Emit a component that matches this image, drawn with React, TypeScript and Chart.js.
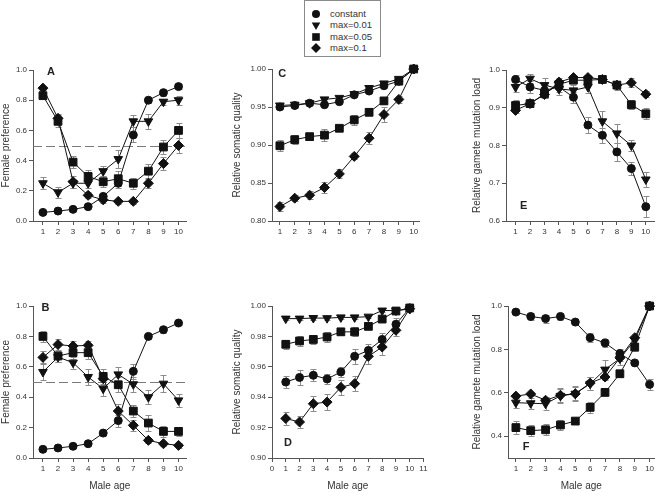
import React, { useEffect, useRef } from 'react';
import { Chart, registerables } from 'chart.js';

Chart.register(...registerables);
Chart.defaults.font.family = "'Liberation Sans', Arial, sans-serif";

// ---------- data ----------
const AGES = [1, 2, 3, 4, 5, 6, 7, 8, 9, 10];
const SERIES_LABELS = ['constant', 'max=0.01', 'max=0.05', 'max=0.1'];

// Panel A – female preference
const A_CONSTANT = [0.057, 0.066, 0.077, 0.095, 0.163, 0.25, 0.57, 0.8, 0.85, 0.89];
const A_MAX001 = [0.25, 0.19, 0.25, 0.25, 0.33, 0.41, 0.66, 0.66, 0.79, 0.8];
const A_MAX005 = [0.83, 0.66, 0.39, 0.295, 0.26, 0.28, 0.25, 0.33, 0.49, 0.6];
const A_MAX01 = [0.88, 0.68, 0.26, 0.17, 0.14, 0.13, 0.13, 0.25, 0.38, 0.5];
const A_CONSTANT_ERR = [0.01, 0.01, 0.01, 0.01, 0.02, 0.03, 0.05, 0.02, 0.02, 0.015];
const A_MAX001_ERR = [0.04, 0.035, 0.03, 0.03, 0.035, 0.06, 0.04, 0.05, 0.02, 0.03];
const A_MAX005_ERR = [0.02, 0.04, 0.04, 0.04, 0.035, 0.05, 0.035, 0.045, 0.045, 0.05];
const A_MAX01_ERR = [0.01, 0.03, 0.04, 0.02, 0.02, 0.015, 0.015, 0.03, 0.045, 0.05];

// Panel B – female preference
const B_CONSTANT = [0.057, 0.066, 0.077, 0.094, 0.164, 0.246, 0.57, 0.8, 0.844, 0.888];
const B_MAX001 = [0.566, 0.664, 0.627, 0.533, 0.456, 0.55, 0.485, 0.4, 0.489, 0.379];
const B_MAX005 = [0.8, 0.671, 0.693, 0.693, 0.537, 0.482, 0.309, 0.23, 0.175, 0.175];
const B_MAX01 = [0.662, 0.746, 0.737, 0.741, 0.522, 0.309, 0.215, 0.116, 0.094, 0.083];
const B_CONSTANT_ERR = [0.01, 0.01, 0.01, 0.01, 0.02, 0.04, 0.05, 0.02, 0.02, 0.01];
const B_MAX001_ERR = [0.05, 0.03, 0.04, 0.05, 0.05, 0.05, 0.05, 0.045, 0.055, 0.045];
const B_MAX005_ERR = [0.035, 0.04, 0.04, 0.04, 0.05, 0.05, 0.04, 0.05, 0.035, 0.03];
const B_MAX01_ERR = [0.04, 0.04, 0.035, 0.03, 0.04, 0.045, 0.035, 0.015, 0.015, 0.015];

// Panel C – relative somatic quality
const C_CONSTANT = [0.95, 0.952, 0.955, 0.953, 0.957, 0.966, 0.971, 0.978, 0.984, 1.0];
const C_MAX001 = [0.952, 0.953, 0.955, 0.96, 0.962, 0.967, 0.975, 0.981, 0.987, 1.0];
const C_MAX005 = [0.899, 0.907, 0.911, 0.913, 0.922, 0.933, 0.943, 0.958, 0.984, 1.0];
const C_MAX01 = [0.819, 0.83, 0.834, 0.844, 0.862, 0.885, 0.909, 0.94, 0.96, 1.0];
const C_CONSTANT_ERR = [0.003, 0.003, 0.003, 0.003, 0.003, 0.003, 0.003, 0.003, 0.003, 0.001];
const C_MAX001_ERR = [0.003, 0.003, 0.003, 0.003, 0.003, 0.003, 0.003, 0.003, 0.003, 0.001];
const C_MAX005_ERR = [0.007, 0.006, 0.004, 0.008, 0.004, 0.007, 0.004, 0.004, 0.004, 0.002];
const C_MAX01_ERR = [0.006, 0.004, 0.005, 0.007, 0.006, 0.004, 0.008, 0.01, 0.005, 0.002];

// Panel D – relative somatic quality
const D_CONSTANT = [0.95, 0.953, 0.9544, 0.952, 0.9566, 0.9669, 0.9708, 0.978, 0.988, 0.9987];
const D_MAX001 = [0.9917, 0.9917, 0.9921, 0.992, 0.9925, 0.9925, 0.993, 0.997, 0.997, 0.998];
const D_MAX005 = [0.9748, 0.977, 0.978, 0.9796, 0.983, 0.983, 0.9866, 0.9914, 0.9967, 0.9987];
const D_MAX01 = [0.926, 0.9237, 0.9357, 0.9368, 0.9465, 0.9489, 0.9669, 0.973, 0.984, 0.9982];
const D_CONSTANT_ERR = [0.004, 0.005, 0.004, 0.003, 0.003, 0.005, 0.004, 0.004, 0.004, 0.001];
const D_MAX001_ERR = [0.001, 0.001, 0.001, 0.001, 0.001, 0.001, 0.001, 0.001, 0.001, 0.001];
const D_MAX005_ERR = [0.003, 0.003, 0.003, 0.003, 0.002, 0.003, 0.002, 0.002, 0.002, 0.001];
const D_MAX01_ERR = [0.004, 0.004, 0.005, 0.005, 0.005, 0.005, 0.005, 0.005, 0.004, 0.001];

// Panel E – relative gamete mutation load
const E_CONSTANT = [0.975, 0.955, 0.946, 0.955, 0.928, 0.854, 0.827, 0.783, 0.739, 0.638];
const E_MAX001 = [0.955, 0.977, 0.96, 0.95, 0.946, 0.955, 0.864, 0.832, 0.8, 0.71];
const E_MAX005 = [0.906, 0.911, 0.937, 0.962, 0.973, 0.973, 0.975, 0.96, 0.908, 0.884];
const E_MAX01 = [0.893, 0.911, 0.935, 0.968, 0.98, 0.98, 0.975, 0.96, 0.966, 0.936];
const E_CONSTANT_ERR = [0.012, 0.015, 0.015, 0.012, 0.015, 0.022, 0.02, 0.024, 0.016, 0.028];
const E_MAX001_ERR = [0.013, 0.012, 0.02, 0.015, 0.015, 0.015, 0.027, 0.025, 0.015, 0.02];
const E_MAX005_ERR = [0.015, 0.01, 0.01, 0.01, 0.008, 0.008, 0.006, 0.012, 0.012, 0.015];
const E_MAX01_ERR = [0.008, 0.008, 0.01, 0.01, 0.006, 0.006, 0.006, 0.01, 0.012, 0.008];

// Panel F – relative gamete mutation load
const F_CONSTANT = [0.972, 0.952, 0.942, 0.952, 0.926, 0.854, 0.83, 0.781, 0.738, 0.639];
const F_MAX001 = [0.555, 0.552, 0.55, 0.586, 0.596, 0.642, 0.707, 0.758, 0.842, 1.0];
const F_MAX005 = [0.44, 0.426, 0.43, 0.452, 0.47, 0.533, 0.602, 0.688, 0.811, 1.0];
const F_MAX01 = [0.585, 0.595, 0.566, 0.589, 0.596, 0.645, 0.673, 0.761, 0.854, 1.0];
const F_CONSTANT_ERR = [0.01, 0.015, 0.018, 0.015, 0.01, 0.02, 0.018, 0.02, 0.01, 0.025];
const F_MAX001_ERR = [0.025, 0.025, 0.03, 0.035, 0.035, 0.03, 0.045, 0.03, 0.03, 0.005];
const F_MAX005_ERR = [0.03, 0.025, 0.025, 0.025, 0.015, 0.025, 0.01, 0.015, 0.02, 0.005];
const F_MAX01_ERR = [0.01, 0.01, 0.015, 0.03, 0.03, 0.03, 0.015, 0.015, 0.01, 0.005];

// tick labels
const X_TICKS = [1, 2, 3, 4, 5, 6, 7, 8, 9, 10];
const X_TICKS_D = [0, 1, 2, 3, 4, 5, 6, 7, 8, 9, 10, 11];
const Y_TICKS_PREF = [0, 0.2, 0.4, 0.6, 0.8, 1.0];
const Y_TICKS_C = [0.8, 0.85, 0.9, 0.95, 1.0];
const Y_TICKS_D = [0.9, 0.92, 0.94, 0.96, 0.98, 1.0];
const Y_TICKS_E = [0.6, 0.7, 0.8, 0.9, 1.0];
const Y_TICKS_F = [0.4, 0.6, 0.8, 1.0];

// ---------- styling ----------
const INK = '#111111';
const AXIS = '#555555';
const TEXT = '#333333';
const ERR = '#8c8c8c';

const MARKERS = [
  { pointStyle: 'circle', radius: 4, rotation: 0 },
  { pointStyle: 'triangle', radius: 5, rotation: 180 },
  { pointStyle: 'rect', radius: 5.5, rotation: 0 },
  { pointStyle: 'rectRot', radius: 5, rotation: 0 },
];

const errorBarPlugin = {
  id: 'errorBars',
  beforeDatasetsDraw(chart: any) {
    const { ctx } = chart;
    const xs = chart.scales.x;
    const ys = chart.scales.y;
    ctx.save();
    ctx.strokeStyle = ERR;
    ctx.lineWidth = 1;
    chart.data.datasets.forEach((ds: any) => {
      const errs = ds.errors as number[];
      if (!errs) return;
      ds.data.forEach((pt: any, i: number) => {
        const e = errs[i];
        if (!e) return;
        const px = Math.round(xs.getPixelForValue(pt.x)) + 0.5;
        const top = Math.round(ys.getPixelForValue(pt.y + e)) + 0.5;
        const bot = Math.round(ys.getPixelForValue(pt.y - e)) + 0.5;
        ctx.beginPath();
        ctx.moveTo(px, top);
        ctx.lineTo(px, bot);
        ctx.moveTo(px - 3, top);
        ctx.lineTo(px + 3, top);
        ctx.moveTo(px - 3, bot);
        ctx.lineTo(px + 3, bot);
        ctx.stroke();
      });
    });
    ctx.restore();
  },
};

const decoPlugin = {
  id: 'deco',
  beforeDatasetsDraw(chart: any, _args: any, opts: any) {
    if (opts.refY == null) return;
    const { ctx, chartArea } = chart;
    const y = Math.round(chart.scales.y.getPixelForValue(opts.refY)) + 0.5;
    ctx.save();
    ctx.strokeStyle = '#7a7a7a';
    ctx.lineWidth = 1;
    ctx.setLineDash([9, 4]);
    ctx.beginPath();
    ctx.moveTo(chartArea.left, y);
    ctx.lineTo(chartArea.right, y);
    ctx.stroke();
    ctx.restore();
  },
  afterDraw(chart: any, _args: any, opts: any) {
    if (!opts.letter) return;
    const { ctx } = chart;
    const x = chart.scales.x.getPixelForValue(opts.letterX);
    const y = chart.scales.y.getPixelForValue(opts.letterY);
    ctx.save();
    ctx.fillStyle = '#222';
    ctx.font = "bold 11px 'Liberation Sans', Arial, sans-serif";
    ctx.textAlign = 'center';
    ctx.textBaseline = 'middle';
    ctx.fillText(opts.letter, x, y);
    ctx.restore();
  },
};

type PanelCfg = {
  left: number; top: number; w: number; h: number;
  pad: { top: number; right: number; bottom: number; left: number };
  yW: number; xH: number;
  xMin: number; xMax: number; xTicks: number[];
  yMin: number; yMax: number; yTicks: number[]; dec: number;
  yTitle: string; xTitle?: string;
  series: number[][]; errors: number[][];
  refY?: number | null;
  letter: string; letterX: number; letterY: number;
};

function buildConfig(p: PanelCfg): any {
  const datasets = p.series.map((vals, si) => ({
    label: SERIES_LABELS[si],
    data: AGES.map((a, i) => ({ x: a, y: vals[i] })),
    errors: p.errors[si],
    borderColor: INK,
    borderWidth: 1,
    backgroundColor: INK,
    pointBackgroundColor: INK,
    pointBorderColor: INK,
    pointBorderWidth: 1,
    pointStyle: MARKERS[si].pointStyle,
    pointRadius: MARKERS[si].radius,
    pointRotation: MARKERS[si].rotation,
    tension: 0,
    fill: false,
    clip: false,
  }));
  const gridCfg = { display: true, drawOnChartArea: false, drawTicks: true, tickLength: 4, color: AXIS, lineWidth: 1 };
  return {
    type: 'line',
    data: { datasets },
    plugins: [errorBarPlugin, decoPlugin],
    options: {
      responsive: false,
      animation: false,
      devicePixelRatio: 1,
      layout: { padding: p.pad },
      plugins: {
        legend: { display: false },
        tooltip: { enabled: false },
        deco: { refY: p.refY ?? null, letter: p.letter, letterX: p.letterX, letterY: p.letterY },
      },
      scales: {
        x: {
          type: 'linear',
          min: p.xMin,
          max: p.xMax,
          grid: gridCfg,
          border: { display: true, color: AXIS, width: 1 },
          afterBuildTicks: (s: any) => { s.ticks = p.xTicks.map((v) => ({ value: v })); },
          afterFit: (s: any) => { s.height = p.xH; },
          ticks: {
            color: TEXT,
            font: { size: 8 },
            padding: 2,
            maxRotation: 0,
            autoSkip: false,
            callback: (v: any) => String(v),
          },
          title: p.xTitle
            ? { display: true, text: p.xTitle, color: TEXT, font: { size: 10 }, padding: 0 }
            : { display: false },
        },
        y: {
          type: 'linear',
          min: p.yMin,
          max: p.yMax,
          grid: gridCfg,
          border: { display: true, color: AXIS, width: 1 },
          afterBuildTicks: (s: any) => { s.ticks = p.yTicks.map((v) => ({ value: v })); },
          afterFit: (s: any) => { s.width = p.yW; },
          ticks: {
            color: TEXT,
            font: { size: 8 },
            padding: 2,
            autoSkip: false,
            callback: (v: any) => Number(v).toFixed(p.dec),
          },
          title: { display: true, text: p.yTitle, color: TEXT, font: { size: 10 }, padding: 0 },
        },
      },
    },
  };
}

const PANELS: PanelCfg[] = [
  {
    left: 0, top: 50, w: 193, h: 191, pad: { top: 20, right: 5, bottom: 0, left: 0 }, yW: 33, xH: 20,
    xMin: 0.34, xMax: 10.53, xTicks: X_TICKS, yMin: 0, yMax: 1, yTicks: Y_TICKS_PREF, dec: 1,
    yTitle: 'Female preference',
    series: [A_CONSTANT, A_MAX001, A_MAX005, A_MAX01],
    errors: [A_CONSTANT_ERR, A_MAX001_ERR, A_MAX005_ERR, A_MAX01_ERR],
    refY: 0.5, letter: 'A', letterX: 1.53, letterY: 0.99,
  },
  {
    left: 231, top: 50, w: 195, h: 191, pad: { top: 19, right: 3, bottom: 0, left: 0 }, yW: 41, xH: 20,
    xMin: 0.47, xMax: 10.39, xTicks: X_TICKS, yMin: 0.8, yMax: 1, yTicks: Y_TICKS_C, dec: 2,
    yTitle: 'Relative somatic quality',
    series: [C_CONSTANT, C_MAX001, C_MAX005, C_MAX01],
    errors: [C_CONSTANT_ERR, C_MAX001_ERR, C_MAX005_ERR, C_MAX01_ERR],
    refY: null, letter: 'C', letterX: 1.16, letterY: 0.994,
  },
  {
    left: 471, top: 50, w: 190, h: 191, pad: { top: 20, right: 0, bottom: 0, left: 0 }, yW: 35, xH: 20,
    xMin: 0.34, xMax: 10.6, xTicks: X_TICKS, yMin: 0.6, yMax: 1, yTicks: Y_TICKS_E, dec: 1,
    yTitle: 'Relative gamete mutation load',
    series: [E_CONSTANT, E_MAX001, E_MAX005, E_MAX01],
    errors: [E_CONSTANT_ERR, E_MAX001_ERR, E_MAX005_ERR, E_MAX01_ERR],
    refY: null, letter: 'E', letterX: 1.56, letterY: 0.64,
  },
  {
    left: 0, top: 280, w: 193, h: 212, pad: { top: 26, right: 5, bottom: 0, left: 0 }, yW: 33, xH: 34,
    xMin: 0.34, xMax: 10.53, xTicks: X_TICKS, yMin: 0, yMax: 1, yTicks: Y_TICKS_PREF, dec: 1,
    yTitle: 'Female preference', xTitle: 'Male age',
    series: [B_CONSTANT, B_MAX001, B_MAX005, B_MAX01],
    errors: [B_CONSTANT_ERR, B_MAX001_ERR, B_MAX005_ERR, B_MAX01_ERR],
    refY: 0.5, letter: 'B', letterX: 1.16, letterY: 0.987,
  },
  {
    left: 231, top: 280, w: 199, h: 212, pad: { top: 26, right: 6, bottom: 0, left: 0 }, yW: 41, xH: 34,
    xMin: 0, xMax: 11, xTicks: X_TICKS_D, yMin: 0.9, yMax: 1, yTicks: Y_TICKS_D, dec: 2,
    yTitle: 'Relative somatic quality', xTitle: 'Male age',
    series: [D_CONSTANT, D_MAX001, D_MAX005, D_MAX01],
    errors: [D_CONSTANT_ERR, D_MAX001_ERR, D_MAX005_ERR, D_MAX01_ERR],
    refY: null, letter: 'D', letterX: 1.16, letterY: 0.91,
  },
  {
    left: 471, top: 280, w: 190, h: 212, pad: { top: 26, right: 4, bottom: 0, left: 0 }, yW: 37, xH: 34,
    xMin: 0.47, xMax: 10.33, xTicks: X_TICKS, yMin: 0.3, yMax: 1, yTicks: Y_TICKS_F, dec: 1,
    yTitle: 'Relative gamete mutation load', xTitle: 'Male age',
    series: [F_CONSTANT, F_MAX001, F_MAX005, F_MAX01],
    errors: [F_CONSTANT_ERR, F_MAX001_ERR, F_MAX005_ERR, F_MAX01_ERR],
    refY: null, letter: 'F', letterX: 1.69, letterY: 0.35,
  },
];

function Panel({ cfg }: { cfg: PanelCfg }) {
  const ref = useRef<HTMLCanvasElement>(null);
  useEffect(() => {
    const chart = new Chart(ref.current as HTMLCanvasElement, buildConfig(cfg));
    return () => chart.destroy();
  }, [cfg]);
  return (
    <canvas
      ref={ref}
      width={cfg.w}
      height={cfg.h}
      style={{ position: 'absolute', left: cfg.left, top: cfg.top, width: cfg.w, height: cfg.h }}
    />
  );
}

function LegendMarker({ kind }: { kind: number }) {
  const c = 6;
  let shape: React.ReactNode = null;
  if (kind === 0) shape = <circle cx={c} cy={c} r={4} fill={INK} />;
  if (kind === 1) shape = <polygon points={`${c - 4.3},${c - 2.5} ${c + 4.3},${c - 2.5} ${c},${c + 5}`} fill={INK} />;
  if (kind === 2) shape = <rect x={c - 3.8} y={c - 3.8} width={7.6} height={7.6} fill={INK} />;
  if (kind === 3) shape = <polygon points={`${c - 5},${c} ${c},${c - 5} ${c + 5},${c} ${c},${c + 5}`} fill={INK} />;
  return (
    <svg width={12} height={12} style={{ position: 'absolute', left: 5, top: -6 }}>
      {shape}
    </svg>
  );
}

function Legend() {
  const rows = [12.7, 24.2, 35.7, 47.3];
  return (
    <div
      style={{
        position: 'absolute', left: 304, top: 0, width: 77, height: 57,
        border: '1px solid #8a8a8a', boxSizing: 'border-box', background: '#fff',
        fontFamily: "'Liberation Sans', Arial, sans-serif", fontSize: 9.5, color: TEXT,
      }}
    >
      {SERIES_LABELS.map((lab, i) => (
        <div key={lab} style={{ position: 'absolute', left: 0, top: rows[i], height: 0, width: '100%' }}>
          <LegendMarker kind={i} />
          <span style={{ position: 'absolute', left: 25, top: -6, lineHeight: '12px', whiteSpace: 'nowrap' }}>{lab}</span>
        </div>
      ))}
    </div>
  );
}

export default function App() {
  return (
    <div
      style={{
        position: 'absolute', left: 0, top: 0, width: 661, height: 492,
        background: '#fff', overflow: 'hidden',
      }}
    >
      {PANELS.map((p, i) => (
        <Panel key={i} cfg={p} />
      ))}
      <Legend />
    </div>
  );
}
